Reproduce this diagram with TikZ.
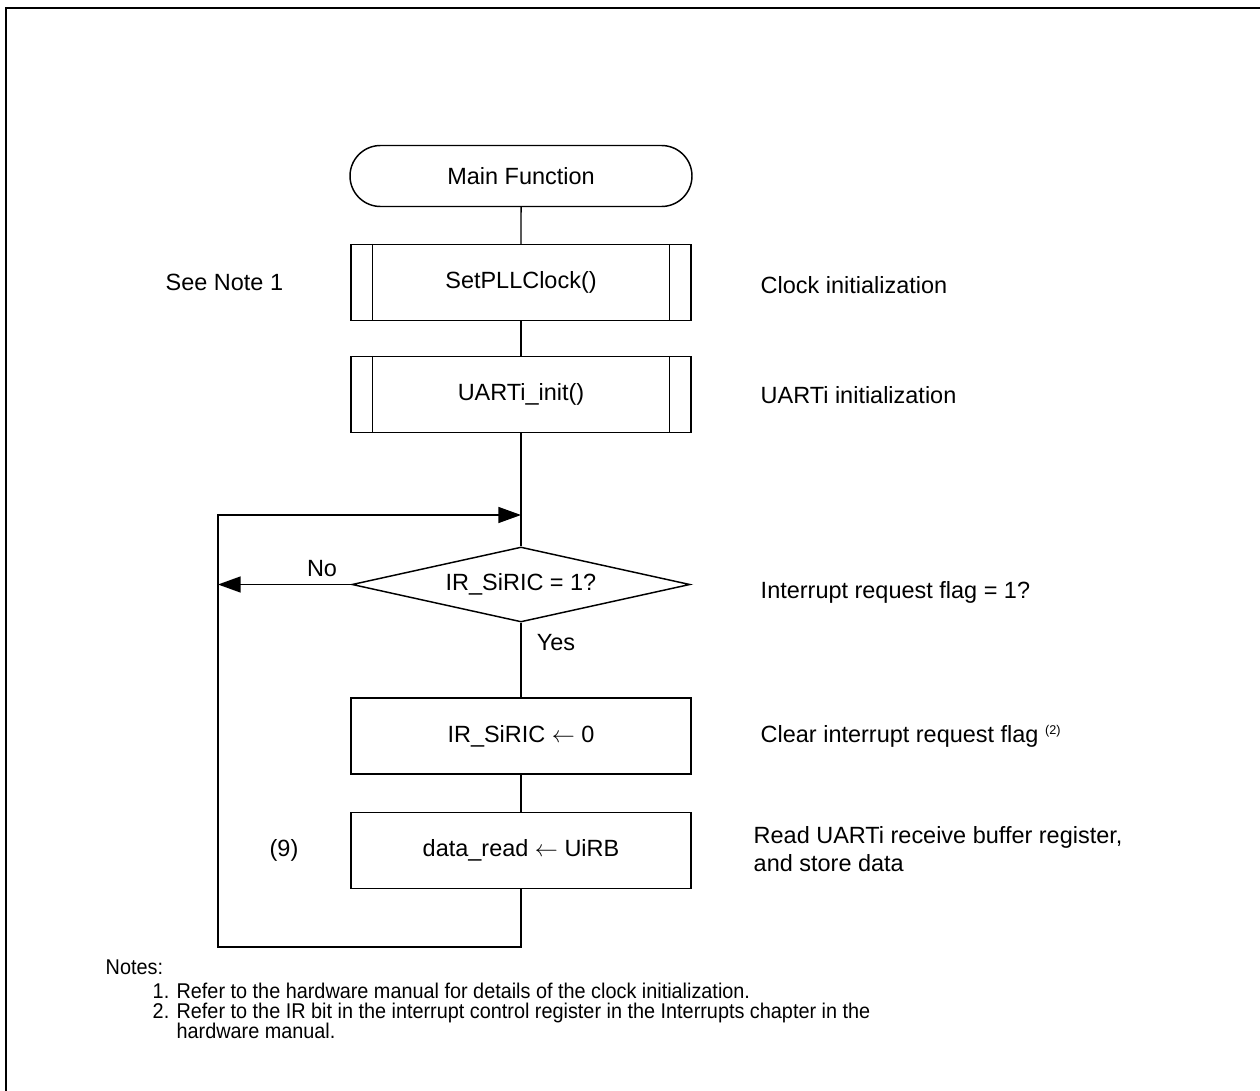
\documentclass[tikz,border=0pt]{standalone}
\usepackage{fontspec}
\setmainfont{Liberation Sans}
\newfontfamily\notefamily[FakeStretch=0.93]{Liberation Sans}
\usetikzlibrary{arrows.meta,shapes.geometric,shapes.misc}

\newcommand{\mainsz}{\fontsize{17.6}{21}\selectfont}
\newcommand{\notesz}{\notefamily\fontsize{16}{15}\selectfont}

\tikzset{every picture/.style={line width=1.1pt}}
\tikzset{
  termbox/.style={draw, rounded rectangle, minimum width=256.5pt, minimum height=45.75pt, inner sep=0pt, font=\mainsz},
  procbox/.style={draw, rectangle, minimum width=255pt, minimum height=57pt, inner sep=0pt, font=\mainsz},
  subbox/.style={procbox},
  decbox/.style={draw, diamond, aspect=4.5, minimum width=253.5pt, minimum height=56.25pt, inner sep=0pt, font=\mainsz},
  sidetext/.style={anchor=west, inner sep=0pt, font=\mainsz},
  notetext/.style={anchor=west, inner sep=0pt, font=\notesz},
  flowarrow/.style={-{Triangle[length=17pt,width=12pt]}}
}

\begin{document}
\begin{tikzpicture}[x=0.75pt,y=0.75pt,yscale=-1,xscale=1]
\useasboundingbox (0,0) rectangle (1260,1091);

% frame
\draw[line width=1.6pt] (6,1091) -- (6,8) -- (1260,8);

% flow boxes
\node[termbox] (start) at (521,176) {Main Function};
\node[subbox] (pll) at (521,282.5) {SetPLLClock()};
\node[subbox] (uart) at (521,394.5) {UARTi\_init()};
\node[decbox] (dec) at (521,584.5) {IR\_SiRIC = 1?};
\node[procbox] (clr) at (521,736) {IR\_SiRIC $\leftarrow$ 0};
\node[procbox] (rd) at (521,850.5) {data\_read $\leftarrow$ UiRB};

% side bars of the subroutine boxes
\foreach \n in {pll,uart}
  \draw ([xshift=16.5pt]\n.north west) -- ([xshift=16.5pt]\n.south west)
        ([xshift=-16.5pt]\n.north east) -- ([xshift=-16.5pt]\n.south east);

% loop corners
\coordinate (join) at (521,515);
\coordinate (lt) at (218,515);
\coordinate (lb) at (218,947);
\coordinate (bot) at (521,947);
\coordinate (noend) at (218,584.5);

% connectors
\draw (start) -- (pll);
\draw (pll) -- (uart);
\draw (uart) -- (dec);
\draw (dec) -- (clr);
\draw (clr) -- (rd);
\draw[flowarrow] (rd.south) -- (bot) -- (lb) -- (lt) -- (join);
\draw[flowarrow] (dec.west) -- (noend);

\node[font=\mainsz, inner sep=0pt] (no) at (322,569) {No};
\node[font=\mainsz, inner sep=0pt] (yes) at (556,643) {Yes};

% left remarks
\node[sidetext] (seenote) at (165,282) {See Note 1};
\node[font=\mainsz, inner sep=0pt] (step9) at (284,850) {(9)};

% right remarks
\node[sidetext] (pllnote) at (760,285) {Clock initialization};
\node[sidetext] (uartnote) at (760,395) {UARTi initialization};
\node[sidetext] (decnote) at (760,592) {Interrupt request flag = 1?};
\node[sidetext] (clrnote) at (760,736) {Clear interrupt request flag \raisebox{6pt}{\fontsize{9.5}{10}\selectfont(2)}};
\node[sidetext, align=left] (rdnote) at (753,849) {Read UARTi receive buffer register,\\and store data};

% notes
\node[notetext] (notes) at (105,967) {Notes:};
\node[notetext, align=left] (notelist) at (152,1011) {1. Refer to the hardware manual for details of the clock initialization.\\
2. Refer to the IR bit in the interrupt control register in the Interrupts chapter in the\\
\phantom{2. }hardware manual.};

\end{tikzpicture}
\end{document}
